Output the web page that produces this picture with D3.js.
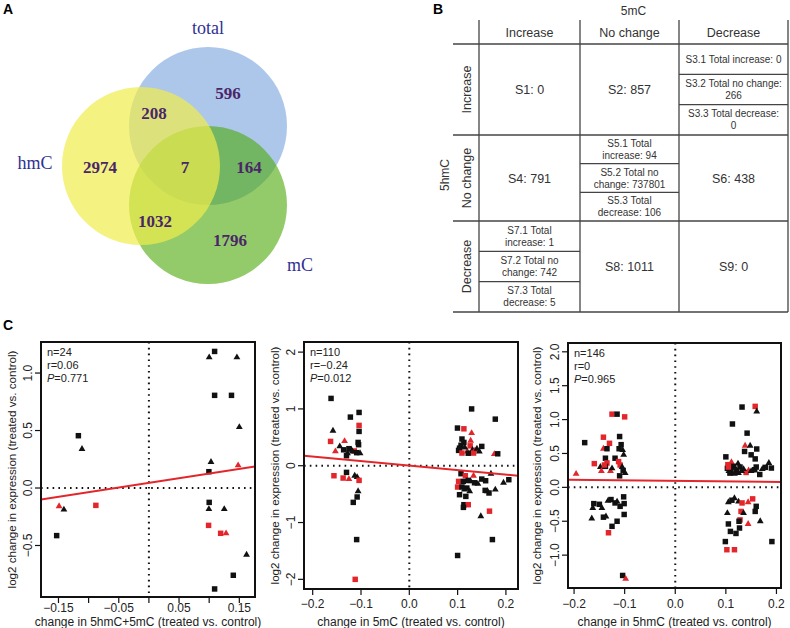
<!DOCTYPE html>
<html><head><meta charset="utf-8">
<script src="https://cdn.jsdelivr.net/npm/d3@7"></script>
<style>body{margin:0;background:#fff}svg{display:block}</style>
</head><body><svg id="c" width="790" height="628"></svg>
<script>
// ---------------- DATA ----------------
// Panel A: Venn
const vennSetNames = ["total", "mC", "hmC"];
const vennRegionNames = ["total only","hmC∩total","hmC only","all","total∩mC","hmC∩mC","mC only"];
const vennRegionCounts = [596, 208, 2974, 7, 164, 1032, 1796];

// Panel B: table
const tableTitleCol = "5mC";
const tableTitleRow = "5hmC";
const tableColNames = ["Increase", "No change", "Decrease"];
const tableRowNames = ["Increase", "No change", "Decrease"];
const tableRow1 = ["S1: 0", "S2: 857", ["S3.1 Total increase: 0", "S3.2 Total no change:|266", "S3.3 Total decrease:|0"]];
const tableRow2 = ["S4: 791", ["S5.1 Total|increase: 94", "S5.2 Total no|change: 737801", "S5.3 Total|decrease: 106"], "S6: 438"];
const tableRow3 = [["S7.1 Total|increase: 1", "S7.2 Total no|change: 742", "S7.3 Total|decrease: 5"], "S8: 1011", "S9: 0"];

// Panel C: scatter plots  [x, y, shape(s/t), colour(k/r)]
const p1Points = [
 [-0.117,0.455,"s","k"],[-0.111,0.34,"t","k"],[-0.149,-0.159,"t","r"],[-0.141,-0.188,"t","k"],
 [-0.153,-0.414,"s","k"],[-0.088,-0.151,"s","r"],[0.109,1.188,"s","k"],[0.100,1.136,"t","k"],
 [0.146,1.136,"t","k"],[0.109,0.806,"s","k"],[0.137,0.806,"s","k"],[0.150,0.530,"t","k"],
 [0.103,0.226,"t","k"],[0.0995,0.142,"s","k"],[0.148,0.197,"t","r"],[0.100,-0.125,"s","k"],
 [0.0995,-0.183,"t","k"],[0.125,-0.183,"t","k"],[0.099,-0.325,"s","r"],[0.119,-0.394,"s","r"],
 [0.128,-0.394,"t","r"],[0.162,-0.58,"t","k"],[0.140,-0.759,"s","k"],[0.109,-0.878,"s","k"]
];
const p2Points = [
 [-0.162,1.185,"s","k"],[-0.122,0.856,"s","k"],[-0.104,0.938,"s","k"],[-0.104,0.71,"s","r"],
 [-0.158,0.616,"t","k"],[-0.104,0.604,"s","k"],[-0.163,0.428,"s","r"],[-0.134,0.434,"t","r"],
 [-0.153,0.252,"t","r"],[-0.106,0.41,"s","k"],[-0.144,0.34,"t","k"],[-0.136,0.28,"s","k"],
 [-0.128,0.22,"t","k"],[-0.130,0.176,"s","k"],[-0.114,0.26,"s","r"],[-0.120,0.28,"t","k"],
 [-0.109,0.23,"s","k"],[-0.102,0.22,"t","k"],[-0.105,0.37,"s","k"],[-0.125,0.30,"s","k"],
 [-0.118,0.25,"t","k"],[-0.156,-0.176,"s","r"],[-0.137,-0.217,"s","r"],[-0.125,-0.235,"t","r"],
 [-0.130,-0.117,"s","k"],[-0.113,-0.176,"t","k"],[-0.108,-0.20,"t","k"],[-0.104,-0.258,"s","r"],
 [-0.106,-0.45,"t","k"],[-0.108,-0.55,"s","k"],[-0.116,-0.645,"s","k"],[-0.109,-1.30,"s","k"],
 [-0.112,-2.0,"s","r"],
 [0.129,1.0,"s","k"],[0.178,0.82,"s","k"],[0.0997,0.663,"s","k"],[0.113,0.65,"s","r"],
 [0.129,0.575,"t","r"],[0.109,0.47,"s","k"],[0.113,0.41,"s","k"],[0.127,0.44,"t","r"],
 [0.104,0.31,"s","k"],[0.102,0.27,"s","k"],[0.126,0.35,"s","r"],[0.150,0.34,"s","k"],
 [0.131,0.28,"t","k"],[0.109,0.223,"s","r"],[0.120,0.25,"t","r"],[0.136,0.27,"t","r"],
 [0.145,0.25,"t","k"],[0.133,0.223,"s","r"],[0.176,0.205,"t","r"],[0.183,0.21,"s","k"],
 [0.115,0.32,"t","k"],[0.140,0.30,"t","k"],[0.107,0.36,"s","k"],[0.122,0.22,"s","k"],
 [0.107,-0.14,"s","k"],[0.116,-0.176,"s","r"],[0.133,-0.176,"t","r"],[0.169,-0.14,"t","k"],
 [0.150,-0.235,"s","k"],[0.158,-0.264,"s","k"],[0.206,-0.246,"s","k"],[0.195,-0.30,"t","k"],
 [0.102,-0.276,"s","r"],[0.112,-0.276,"s","k"],[0.122,-0.258,"s","k"],[0.127,-0.276,"t","k"],
 [0.100,-0.375,"s","r"],[0.109,-0.375,"s","k"],[0.119,-0.393,"s","k"],[0.114,-0.42,"t","k"],
 [0.104,-0.51,"s","k"],[0.117,-0.54,"s","k"],[0.157,-0.434,"s","k"],[0.162,-0.45,"t","k"],
 [0.178,-0.42,"t","k"],[0.113,-0.686,"s","k"],[0.122,-0.686,"s","r"],[0.112,-0.733,"s","k"],
 [0.166,-0.80,"s","r"],[0.148,-0.89,"t","k"],[0.172,-1.30,"s","k"],[0.100,-1.58,"s","k"],
 [0.135,-0.30,"s","k"],[0.142,-0.32,"t","k"],[0.125,-0.45,"t","k"],[0.165,-0.48,"s","k"]
];
const p3Points = [
 [-0.125,1.08,"s","r"],[-0.115,1.08,"s","k"],[-0.100,1.04,"s","r"],[-0.179,0.66,"s","k"],
 [-0.142,0.74,"s","r"],[-0.110,0.75,"s","k"],[-0.130,0.65,"s","r"],[-0.142,0.57,"t","r"],
 [-0.135,0.57,"s","k"],[-0.107,0.63,"s","k"],[-0.111,0.57,"s","k"],[-0.104,0.55,"t","k"],
 [-0.119,0.43,"s","k"],[-0.138,0.43,"s","k"],[-0.102,0.48,"t","k"],[-0.160,0.35,"s","r"],
 [-0.135,0.36,"s","r"],[-0.112,0.38,"s","r"],[-0.109,0.33,"s","r"],[-0.148,0.30,"t","k"],
 [-0.138,0.31,"s","k"],[-0.105,0.30,"t","k"],[-0.196,0.20,"t","r"],[-0.146,0.24,"t","r"],
 [-0.128,0.24,"t","r"],[-0.103,0.25,"s","k"],[-0.099,0.21,"t","k"],[-0.110,0.17,"s","k"],
 [-0.140,0.33,"s","r"],[-0.125,0.28,"t","k"],
 [-0.161,-0.24,"s","k"],[-0.163,-0.305,"t","k"],[-0.150,-0.25,"s","k"],[-0.145,-0.305,"t","k"],
 [-0.127,-0.18,"s","k"],[-0.119,-0.23,"s","k"],[-0.115,-0.21,"t","k"],[-0.102,-0.14,"s","k"],
 [-0.101,-0.24,"s","k"],[-0.109,-0.28,"s","k"],[-0.133,-0.20,"t","k"],[-0.165,-0.46,"t","k"],
 [-0.142,-0.44,"s","k"],[-0.137,-0.43,"t","k"],[-0.101,-0.40,"s","k"],[-0.115,-0.50,"s","k"],
 [-0.125,-0.575,"s","k"],[-0.132,-0.67,"s","r"],[-0.104,-1.30,"s","k"],[-0.098,-1.35,"t","r"],
 [0.132,1.185,"s","k"],[0.158,1.195,"s","r"],[0.161,1.12,"t","k"],[0.113,0.935,"s","k"],
 [0.142,0.80,"s","k"],[0.138,0.615,"t","r"],[0.148,0.615,"t","k"],[0.137,0.53,"s","k"],
 [0.161,0.566,"s","k"],[0.150,0.48,"s","k"],[0.158,0.42,"s","k"],[0.100,0.45,"s","k"],
 [0.104,0.335,"s","r"],[0.111,0.37,"t","r"],[0.115,0.31,"s","k"],[0.124,0.35,"t","k"],
 [0.185,0.36,"t","k"],[0.178,0.295,"s","k"],[0.190,0.285,"s","k"],[0.157,0.26,"s","k"],
 [0.167,0.19,"s","k"],[0.145,0.25,"t","r"],[0.140,0.22,"s","r"],[0.103,0.28,"s","k"],
 [0.106,0.24,"t","k"],[0.110,0.27,"s","k"],[0.112,0.22,"t","k"],[0.118,0.29,"t","k"],
 [0.121,0.25,"s","k"],[0.125,0.21,"t","k"],[0.128,0.30,"s","k"],[0.131,0.24,"t","k"],
 [0.135,0.27,"t","k"],[0.105,0.30,"s","r"],[0.117,0.20,"t","k"],[0.150,0.24,"t","k"],
 [0.160,0.30,"s","k"],[0.172,0.27,"t","k"],[0.108,0.21,"s","k"],
 [0.105,-0.22,"t","k"],[0.117,-0.16,"t","k"],[0.112,-0.19,"s","k"],[0.125,-0.21,"t","k"],
 [0.132,-0.23,"s","r"],[0.144,-0.22,"t","r"],[0.153,-0.17,"s","r"],[0.160,-0.28,"s","k"],
 [0.158,-0.355,"s","k"],[0.103,-0.38,"t","k"],[0.130,-0.355,"s","r"],[0.135,-0.38,"t","k"],
 [0.128,-0.48,"s","r"],[0.126,-0.50,"s","k"],[0.144,-0.54,"t","r"],[0.168,-0.50,"t","k"],
 [0.105,-0.54,"s","k"],[0.109,-0.65,"s","k"],[0.120,-0.68,"s","k"],[0.127,-0.60,"s","k"],
 [0.099,-0.80,"s","k"],[0.191,-0.80,"s","k"],[0.102,-0.92,"s","r"],[0.117,-0.92,"s","r"]
];
// regression fits [intercept, slope]
const p1Fit = [0.045, 0.81];
const p2Fit = [0.003, -0.795];
const p3Fit = [0.096, -0.08];
const p1Stats = ["n=24", "r=0.06", "0.771"];
const p2Stats = ["n=110", "r=\u22120.24", "0.012"];
const p3Stats = ["n=146", "r=0", "0.965"];
const p1XTicks = [-0.15, -0.1, -0.05, 0, 0.05, 0.1, 0.15];
const p1XTickLabels = ["\u22120.15", "", "\u22120.05", "", "0.05", "", "0.15"];
const p1YTicks = [-0.5, 0, 0.5, 1];
const p1YTickLabels = ["\u22120.5", "0.0", "0.5", "1.0"];
const p2XTicks = [-0.2, -0.1, 0, 0.1, 0.2];
const p2XTickLabels = ["\u22120.2", "\u22120.1", "0.0", "0.1", "0.2"];
const p2YTicks = [-2, -1, 0, 1, 2];
const p2YTickLabels = ["\u22122", "\u22121", "0", "1", "2"];
const p3XTicks = [-0.2, -0.1, 0, 0.1, 0.2];
const p3XTickLabels = ["\u22120.2", "\u22120.1", "0.0", "0.1", "0.2"];
const p3YTicks = [-1, -0.5, 0, 0.5, 1, 1.5, 2];
const p3YTickLabels = ["\u22121.0", "\u22120.5", "0.0", "0.5", "1.0", "1.5", "2.0"];
const yTitle = "log2 change in expression (treated vs. control)";
const p1XTitle = "change in 5hmC+5mC (treated vs. control)";
const p2XTitle = "change in 5mC (treated vs. control)";
const p3XTitle = "change in 5hmC (treated vs. control)";

// ---------------- DRAW ----------------
const svg = d3.select("#c");
const SANS = "'Liberation Sans', Arial, Helvetica, sans-serif";
const SERIF = "'Liberation Serif', 'Times New Roman', serif";

// panel letters
[["A", 3, 14], ["B", 433, 14], ["C", 3, 330]].forEach(([t, x, y]) =>
  svg.append("text").attr("x", x).attr("y", y).text(t)
    .attr("font-family", SANS).attr("font-weight", "bold").attr("font-size", 14));

// ----- Venn -----
(function () {
  const layout = {
    total: {cx: 208, cy: 126, fill: "#5b8fd6", op: 0.5},
    mC:    {cx: 208, cy: 205, fill: "#4ba807", op: 0.6},
    hmC:   {cx: 141, cy: 166, fill: "#f0ec4c", op: 0.7}
  };
  const R = 79;
  const g = svg.append("g");
  g.selectAll("circle").data(vennSetNames).join("circle")
    .attr("cx", d => layout[d].cx).attr("cy", d => layout[d].cy).attr("r", R)
    .attr("fill", d => layout[d].fill).attr("fill-opacity", d => layout[d].op);
  const setLabelPos = {total: [208, 34], hmC: [35, 169], mC: [300, 271]};
  g.selectAll("text.set").data(vennSetNames).join("text").attr("class", "set")
    .attr("x", d => setLabelPos[d][0]).attr("y", d => setLabelPos[d][1])
    .attr("text-anchor", "middle").attr("font-family", SERIF).attr("font-size", 18)
    .attr("fill", "#2f3192").text(d => d);
  const regionPos = [[228, 99], [154, 119], [100, 173], [185, 173], [249, 173], [155, 227], [230, 246]];
  g.selectAll("text.reg").data(vennRegionCounts).join("text").attr("class", "reg")
    .attr("x", (d, i) => regionPos[i][0]).attr("y", (d, i) => regionPos[i][1])
    .attr("text-anchor", "middle").attr("font-family", SERIF).attr("font-weight", "bold")
    .attr("font-size", 17).attr("fill", "#4a2668").text(d => d);
})();

// ----- Table -----
(function () {
  const colEdges = [479, 580, 679, 788];
  const rowEdges = [44, 135, 221, 312];
  const top = 20, left = 453;
  const lc = "#444";
  const g = svg.append("g").attr("font-family", SANS).attr("fill", "#333");
  const line = (x1, y1, x2, y2) => g.append("line").attr("x1", x1).attr("y1", y1).attr("x2", x2).attr("y2", y2)
    .attr("stroke", lc).attr("stroke-width", 1.3);
  colEdges.forEach(x => line(x, top, x, rowEdges[3]));
  rowEdges.forEach(y => line(left, y, colEdges[3], y));
  g.append("text").attr("x", (colEdges[0] + colEdges[3]) / 2).attr("y", 15).attr("text-anchor", "middle")
    .attr("font-size", 12).text(tableTitleCol);
  g.append("text").attr("transform", `translate(449,175) rotate(-90)`).attr("text-anchor", "middle")
    .attr("font-size", 12).text(tableTitleRow);
  tableColNames.forEach((c, i) => g.append("text").attr("x", (colEdges[i] + colEdges[i + 1]) / 2).attr("y", 37)
    .attr("text-anchor", "middle").attr("font-size", 12.5).text(c));
  tableRowNames.forEach((r, i) => g.append("text")
    .attr("transform", `translate(${(left + colEdges[0]) / 2 + 4.5},${(rowEdges[i] + rowEdges[i + 1]) / 2}) rotate(-90)`)
    .attr("text-anchor", "middle").attr("font-size", 12.5).text(r));
  const rows = [tableRow1, tableRow2, tableRow3];
  rows.forEach((row, ri) => row.forEach((cell, ci) => {
    const x0 = colEdges[ci], x1 = colEdges[ci + 1], y0 = rowEdges[ri], y1 = rowEdges[ri + 1];
    const cx = (x0 + x1) / 2;
    if (typeof cell === "string") {
      g.append("text").attr("x", cx).attr("y", (y0 + y1) / 2 + 4.5).attr("text-anchor", "middle")
        .attr("font-size", 12.5).text(cell);
    } else {
      const h = (y1 - y0) / cell.length;
      cell.forEach((sub, k) => {
        const sy0 = y0 + k * h;
        if (k > 0) line(x0, sy0, x1, sy0);
        const parts = sub.split("|");
        const mid = sy0 + h / 2;
        parts.forEach((p, pi) => g.append("text").attr("x", cx)
          .attr("y", mid + 3.5 + (pi - (parts.length - 1) / 2) * 12)
          .attr("text-anchor", "middle").attr("font-size", 10).text(p));
      });
    }
  }));
})();

// ----- Scatter panels -----
function scatter(cfg) {
  const x = d3.scaleLinear().domain(cfg.xd).range([cfg.l, cfg.r]);
  const y = d3.scaleLinear().domain(cfg.yd).range([cfg.b, cfg.t]);
  const g = svg.append("g").attr("font-family", SANS);
  const cid = "clip" + cfg.id;
  svg.append("clipPath").attr("id", cid).append("rect")
    .attr("x", cfg.l).attr("y", cfg.t).attr("width", cfg.r - cfg.l).attr("height", cfg.b - cfg.t);
  const inner = g.append("g").attr("clip-path", `url(#${cid})`);
  // dotted reference lines
  inner.append("line").attr("x1", x(0)).attr("x2", x(0)).attr("y1", cfg.t).attr("y2", cfg.b)
    .attr("stroke", "#111").attr("stroke-width", 2).attr("stroke-dasharray", "1.6,4.2");
  inner.append("line").attr("x1", cfg.l).attr("x2", cfg.r).attr("y1", y(0)).attr("y2", y(0))
    .attr("stroke", "#111").attr("stroke-width", 2).attr("stroke-dasharray", "1.6,4.2");
  // points
  const sq = d3.symbol().type(d3.symbolSquare).size(30)();
  const tri = d3.symbol().type(d3.symbolTriangle).size(20)();
  inner.selectAll("path.pt").data(cfg.pts).join("path").attr("class", "pt")
    .attr("d", d => d[2] === "s" ? sq : tri)
    .attr("transform", d => `translate(${x(d[0])},${y(d[1])})`)
    .attr("fill", d => d[3] === "r" ? "#e3262b" : "#111");
  // regression line
  const [a, b] = cfg.fit;
  inner.append("line").attr("x1", cfg.l).attr("x2", cfg.r)
    .attr("y1", y(a + b * cfg.xd[0])).attr("y2", y(a + b * cfg.xd[1]))
    .attr("stroke", "#e3262b").attr("stroke-width", 2);
  // box
  g.append("rect").attr("x", cfg.l).attr("y", cfg.t).attr("width", cfg.r - cfg.l).attr("height", cfg.b - cfg.t)
    .attr("fill", "none").attr("stroke", "#111").attr("stroke-width", 2);
  // x ticks
  g.selectAll("line.xt").data(cfg.xt).join("line").attr("class", "xt")
    .attr("x1", d => x(d)).attr("x2", d => x(d)).attr("y1", cfg.b).attr("y2", cfg.b + 6)
    .attr("stroke", "#111").attr("stroke-width", 1.2);
  g.selectAll("text.xl").data(cfg.xt).join("text").attr("class", "xl")
    .attr("x", d => x(d)).attr("y", cfg.xlY).attr("text-anchor", "middle").attr("font-size", 12)
    .attr("fill", "#222").text((d, i) => cfg.xtl[i]);
  // y ticks
  g.selectAll("line.yt").data(cfg.yt).join("line").attr("class", "yt")
    .attr("y1", d => y(d)).attr("y2", d => y(d)).attr("x1", cfg.l).attr("x2", cfg.l - 6)
    .attr("stroke", "#111").attr("stroke-width", 1.2);
  g.selectAll("text.yl").data(cfg.yt).join("text").attr("class", "yl")
    .attr("transform", d => `translate(${cfg.l - 9},${y(d)}) rotate(-90)`)
    .attr("text-anchor", "middle").attr("font-size", 12).attr("fill", "#222")
    .text((d, i) => cfg.ytl[i]);
  // titles
  g.append("text").attr("x", (cfg.l + cfg.r) / 2).attr("y", 626).attr("text-anchor", "middle")
    .attr("font-size", 12).attr("fill", "#222").text(cfg.xTitle);
  g.append("text").attr("transform", `translate(${cfg.yTitleX},${(cfg.t + cfg.b) / 2}) rotate(-90)`)
    .attr("text-anchor", "middle").attr("font-size", 11.6).attr("fill", "#222").text(yTitle);
  // stats
  const st = g.append("g").attr("font-size", 11).attr("fill", "#222");
  st.append("text").attr("x", cfg.l + 6).attr("y", cfg.t + 14).text(cfg.stats[0]);
  st.append("text").attr("x", cfg.l + 6).attr("y", cfg.t + 26.8).text(cfg.stats[1]);
  const pt = st.append("text").attr("x", cfg.l + 6).attr("y", cfg.t + 39.6);
  pt.append("tspan").attr("font-style", "italic").text("P");
  pt.append("tspan").text("=" + cfg.stats[2]);
}

scatter({id: 1, l: 41, r: 255, t: 342, b: 597, xd: [-0.179, 0.176], yd: [-0.948, 1.27],
  pts: p1Points, fit: p1Fit, xt: p1XTicks, xtl: p1XTickLabels, yt: p1YTicks, ytl: p1YTickLabels,
  xTitle: p1XTitle, yTitleX: 16, xlY: 612, stats: p1Stats});
scatter({id: 2, l: 304, r: 518, t: 342, b: 589, xd: [-0.218, 0.225], yd: [-2.17, 2.178],
  pts: p2Points, fit: p2Fit, xt: p2XTicks, xtl: p2XTickLabels, yt: p2YTicks, ytl: p2YTickLabels,
  xTitle: p2XTitle, yTitleX: 279, xlY: 608, stats: p2Stats});
scatter({id: 3, l: 568, r: 781, t: 343, b: 588, xd: [-0.212, 0.209], yd: [-1.485, 2.13],
  pts: p3Points, fit: p3Fit, xt: p3XTicks, xtl: p3XTickLabels, yt: p3YTicks, ytl: p3YTickLabels,
  xTitle: p3XTitle, yTitleX: 541, xlY: 608, stats: p3Stats});
</script></body></html>
